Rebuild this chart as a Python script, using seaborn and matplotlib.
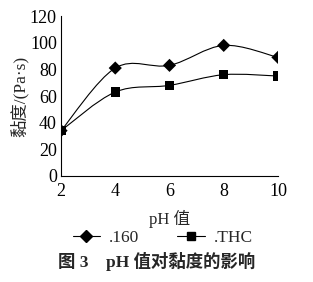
import numpy as np
import pandas as pd
import matplotlib
matplotlib.use("Agg")
import matplotlib.pyplot as plt
from matplotlib.path import Path
from matplotlib.patches import PathPatch
from matplotlib.lines import Line2D
import seaborn as sns

ph = [2, 4, 6, 8, 10]
v160 = [34, 81, 83, 98, 89]
vthc = [34, 63, 68, 76, 75]
series_names = [".160", ".THC"]
yticks = [0, 20, 40, 60, 80, 100, 120]

sns.set_style("white")
plt.rcParams['font.family'] = ['Liberation Serif', 'Noto Sans CJK SC']

fig = plt.figure(figsize=(3.13, 2.82), dpi=100)
ax = fig.add_axes([0.195, 0.376, 0.693, 0.567])

df = pd.DataFrame({"pH": ph * 2, "v": v160 + vthc,
                   "s": [series_names[0]] * 5 + [series_names[1]] * 5})


def smooth_path(xs, ys):
    pts = np.column_stack([xs, ys]).astype(float)
    n = len(pts)
    verts = [pts[0]]
    codes = [Path.MOVETO]
    for i in range(n - 1):
        p0 = pts[i - 1] if i > 0 else pts[i]
        p1 = pts[i]
        p2 = pts[i + 1]
        p3 = pts[i + 2] if i + 2 < n else pts[i + 1]
        c1 = p1 + (p2 - p0) / 6.0
        c2 = p2 - (p3 - p1) / 6.0
        verts += [c1, c2, p2]
        codes += [Path.CURVE4] * 3
    return Path(verts, codes)


for ys in (v160, vthc):
    ax.add_patch(PathPatch(smooth_path(ph, ys), fill=False, edgecolor="black", lw=0.8, zorder=2))

sns.scatterplot(data=df, x="pH", y="v", hue="s", style="s",
                markers={series_names[0]: "D", series_names[1]: "s"},
                palette={series_names[0]: "black", series_names[1]: "black"},
                s=45, edgecolor="black", linewidth=0, ax=ax, legend=False, zorder=3)

ax.set_xlim(2, 10)
ax.set_ylim(0, 120)
ax.set_xticks(ph)
ax.set_yticks(yticks)
ax.tick_params(axis="both", direction="in", length=4, width=0.8, labelsize=13, colors="black")
ax.tick_params(axis="x", pad=5)
ax.tick_params(axis="y", pad=3)
for side in ("top", "right"):
    ax.spines[side].set_visible(False)
for side in ("left", "bottom"):
    ax.spines[side].set_color("black")
    ax.spines[side].set_linewidth(0.8)
ax.set_xlabel("pH 值", fontsize=12, labelpad=7)
ax.set_ylabel("黏度/(Pa·s)", fontsize=12.5, labelpad=1)

handles = [Line2D([], [], color="black", lw=0.8, marker="D", markersize=6),
           Line2D([], [], color="black", lw=0.8, marker="s", markersize=6)]
fig.legend(handles, series_names, loc="center", bbox_to_anchor=(0.52, 0.155), ncol=2,
           frameon=False, fontsize=12.5, handlelength=1.6, columnspacing=2.2, handletextpad=0.5)
fig.text(0.5, 0.072, "图 3    pH 值对黏度的影响", ha="center", va="center", fontsize=12.5,
         fontweight="bold")

fig.savefig("out.png", dpi=100)
